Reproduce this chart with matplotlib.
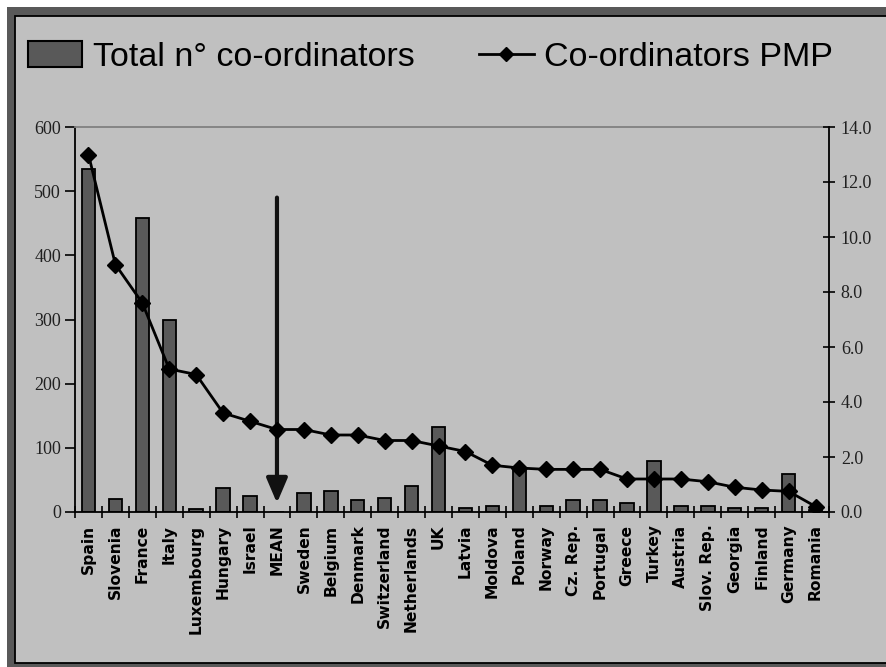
import matplotlib
matplotlib.use("Agg")
import matplotlib.pyplot as plt
from matplotlib.patches import Rectangle
from matplotlib.lines import Line2D
from matplotlib.ticker import FormatStrFormatter
import numpy as np

countries = ["Spain", "Slovenia", "France", "Italy", "Luxembourg", "Hungary", "Israel",
             "MEAN", "Sweden", "Belgium", "Denmark", "Switzerland", "Netherlands", "UK",
             "Latvia", "Moldova", "Poland", "Norway", "Cz. Rep.", "Portugal", "Greece",
             "Turkey", "Austria", "Slov. Rep.", "Georgia", "Finland", "Germany", "Romania"]
total_coord = [535, 21, 458, 300, 5, 37, 25, 0, 29, 33, 18, 22, 41, 132,
               6, 10, 65, 10, 18, 18, 14, 80, 10, 10, 6, 6, 60, 3]
coord_pmp = [13.0, 9.0, 7.6, 5.2, 5.0, 3.6, 3.3, 3.0, 3.0, 2.8, 2.8, 2.6, 2.6, 2.4,
             2.2, 1.7, 1.6, 1.55, 1.55, 1.55, 1.2, 1.2, 1.2, 1.1, 0.9, 0.8, 0.75, 0.2]
left_ticks = [0, 100, 200, 300, 400, 500, 600]
right_ticks = [0, 2, 4, 6, 8, 10, 12, 14]
mean_label = "MEAN"
arrow_from, arrow_to = 490, 14

W, H = 886, 667
fig = plt.figure(figsize=(W / 100, H / 100), dpi=100)
fig.patch.set_facecolor("#595959")
# white margins (top and left)
fig.patches.append(Rectangle((0, 1 - 7 / H), 1, 7 / H, transform=fig.transFigure,
                             facecolor="white", edgecolor="none", zorder=-3))
fig.patches.append(Rectangle((0, 0), 7 / W, 1, transform=fig.transFigure,
                             facecolor="white", edgecolor="none", zorder=-3))
# inner light panel
fig.patches.append(Rectangle((15 / W, 4.5 / H), 1.0, (H - 4.5 - 15.5) / H,
                             transform=fig.transFigure, facecolor="#c0c0c0",
                             edgecolor="black", linewidth=1.3, zorder=-2))

ax = fig.add_axes([75 / W, (H - 512) / H, (829 - 75) / W, (512 - 127) / H])
ax.set_facecolor("#c0c0c0")
x = np.arange(len(countries))
bars = ax.bar(x, total_coord, width=0.5, color="#595959", edgecolor="black",
              linewidth=1.3, zorder=2)
ax.set_xlim(-0.5, len(countries) - 0.5)
ax.set_ylim(0, 600)
ax.set_yticks(left_ticks)
ax.tick_params(axis="y", direction="out", length=7, width=1.2, pad=3,
               labelsize=13, colors="black")
for lab in ax.get_yticklabels():
    lab.set_fontfamily("Liberation Serif")
    lab.set_color("#202020")

ax.set_xticks(x)
ax.set_xticklabels(countries, rotation=90, fontsize=11.2, fontweight="bold",
                   family="DejaVu Sans", va="top", ha="center")
ax.tick_params(axis="x", which="major", length=0, pad=9)
ax.set_xticks(np.arange(-0.5, len(countries), 1.0), minor=True)
ax.tick_params(axis="x", which="minor", direction="inout", length=8, width=1.2)

for s in ["left", "bottom"]:
    ax.spines[s].set_color("black")
    ax.spines[s].set_linewidth(1.3)
ax.spines["top"].set_color("#808080")
ax.spines["top"].set_linewidth(1.3)
ax.spines["right"].set_visible(False)

ax2 = ax.twinx()
line, = ax2.plot(x, coord_pmp, color="black", linewidth=2, marker="D",
                 markersize=8.5, markerfacecolor="black", zorder=3)
ax2.set_ylim(0, 14)
ax2.set_yticks(right_ticks)
ax2.yaxis.set_major_formatter(FormatStrFormatter("%.1f"))
ax2.tick_params(axis="y", direction="inout", length=9, width=1.2, pad=4,
                labelsize=13)
for lab in ax2.get_yticklabels():
    lab.set_fontfamily("Liberation Serif")
    lab.set_color("#202020")
ax2.spines["right"].set_color("black")
ax2.spines["right"].set_linewidth(1.3)
for s in ["left", "bottom", "top"]:
    ax2.spines[s].set_visible(False)

mi = countries.index(mean_label)
ax.annotate("", xy=(mi, arrow_to), xytext=(mi, arrow_from),
            arrowprops=dict(arrowstyle="-|>,head_length=0.75,head_width=0.32",
                            lw=3.0, color="#111111", shrinkA=0, shrinkB=0,
                            mutation_scale=20), zorder=4)

h_bar = Rectangle((0, 0), 1, 1, facecolor="#595959", edgecolor="black", linewidth=1.5)
h_line = Line2D([], [], color="black", linewidth=2, marker="D", markersize=7)
leg = fig.legend([h_bar, h_line], ["Total n\u00b0 co-ordinators", "Co-ordinators PMP"],
                 loc="center left", bbox_to_anchor=(28 / W, 1 - 57 / H), ncol=2,
                 frameon=False, handlelength=1.6, handleheight=0.8, handletextpad=0.3,
                 columnspacing=1.9, borderaxespad=0, borderpad=0,
                 prop={"family": "Liberation Sans", "size": 24.5})

fig.savefig("out.png", dpi=100, facecolor=fig.get_facecolor())
